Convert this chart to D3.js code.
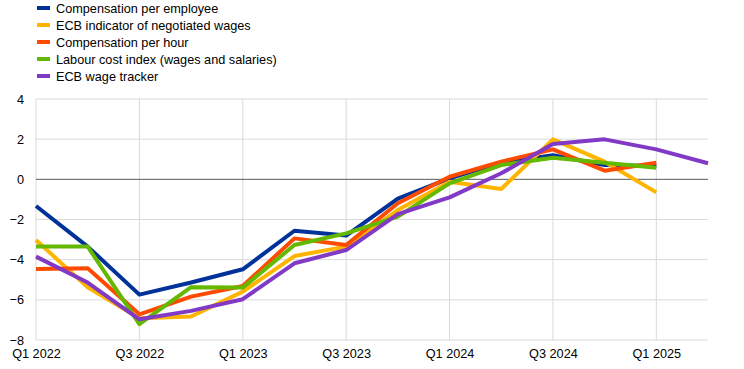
<!DOCTYPE html>
<html>
<head>
<meta charset="utf-8">
<script src="https://cdn.jsdelivr.net/npm/d3@7"></script>
<style>
  body { margin: 0; background: #fff; }
  svg text { font-family: Arial, "Liberation Sans", sans-serif; fill: #000; }
</style>
</head>
<body>
<svg id="chart" width="744" height="369"></svg>
<script>
// quarters Q1 2022 .. Q2 2025
var quarters = ["Q1 2022","Q2 2022","Q3 2022","Q4 2022","Q1 2023","Q2 2023","Q3 2023",
                "Q4 2023","Q1 2024","Q2 2024","Q3 2024","Q4 2024","Q1 2025","Q2 2025"];
var tickLabels = ["Q1 2022","Q3 2022","Q1 2023","Q3 2023","Q1 2024","Q3 2024","Q1 2025"];
var yTicks = [-8, -6, -4, -2, 0, 2, 4];

var seriesNames = ["Compensation per employee", "ECB indicator of negotiated wages",
                   "Compensation per hour", "Labour cost index (wages and salaries)", "ECB wage tracker"];
var seriesColors = ["#003299", "#ffb400", "#ff4b00", "#65b800", "#8139c6"];

var compEmployee = [-1.33, -3.35, -5.74, -5.14, -4.48, -2.56, -2.8, -0.96, 0.05, 0.83, 1.2, 0.71, 0.66];
var negotiated   = [-3.02, -5.38, -6.92, -6.83, -5.59, -3.82, -3.35, -1.53, -0.12, -0.48, 1.99, 0.88, -0.65];
var compHour     = [-4.46, -4.43, -6.72, -5.84, -5.31, -2.94, -3.27, -1.19, 0.13, 0.88, 1.49, 0.43, 0.83];
var labourCost   = [-3.35, -3.35, -7.21, -5.37, -5.39, -3.27, -2.69, -1.86, -0.2, 0.71, 1.07, 0.83, 0.58];
var wageTracker  = [-3.85, -5.14, -6.97, -6.55, -5.97, -4.18, -3.52, -1.73, -0.9, 0.3, 1.76, 1.99, 1.49, 0.8];

var seriesValues = [compEmployee, negotiated, compHour, labourCost, wageTracker];

var FONT_SIZE = "12.7px";

var svg = d3.select("#chart");
var margin = {left: 36, right: 36, top: 99, bottom: 29};
var width = 744 - margin.left - margin.right;
var height = 369 - margin.top - margin.bottom;

var xScale = d3.scalePoint().domain(quarters).range([0, width]);
var yScale = d3.scaleLinear().domain([-8, 4]).range([height, 0]);

var main = svg.append("g")
    .attr("transform", "translate(" + margin.left + "," + margin.top + ")");

// horizontal grid
main.append("g").selectAll("line")
    .data(yTicks.filter(function (d) { return d !== 0; }))
    .enter().append("line")
    .attr("x1", 0).attr("x2", width)
    .attr("y1", function (d) { return yScale(d); })
    .attr("y2", function (d) { return yScale(d); })
    .attr("stroke", "#d9d9d9").attr("stroke-width", 1);

// vertical grid
main.append("g").selectAll("line")
    .data(tickLabels)
    .enter().append("line")
    .attr("x1", function (d) { return xScale(d); })
    .attr("x2", function (d) { return xScale(d); })
    .attr("y1", 0).attr("y2", height)
    .attr("stroke", "#d9d9d9").attr("stroke-width", 1);

// zero line
main.append("line")
    .attr("x1", 0).attr("x2", width)
    .attr("y1", yScale(0)).attr("y2", yScale(0))
    .attr("stroke", "#595959").attr("stroke-width", 1);

// y axis labels
var yAxis = d3.axisLeft(yScale).tickValues(yTicks).tickSize(0).tickPadding(12);
var yG = main.append("g").call(yAxis);
yG.select(".domain").remove();
yG.selectAll("text").style("font-size", FONT_SIZE).attr("font-family", null);

// x axis labels
var xAxis = d3.axisBottom(xScale).tickValues(tickLabels).tickSize(0).tickPadding(9);
var xG = main.append("g").attr("transform", "translate(0," + height + ")").call(xAxis);
xG.select(".domain").remove();
xG.selectAll("text").style("font-size", FONT_SIZE).attr("font-family", null);

// lines
var line = d3.line()
    .x(function (d, i) { return xScale(quarters[i]); })
    .y(function (d) { return yScale(d); });

seriesValues.forEach(function (vals, k) {
    main.append("path")
        .datum(vals)
        .attr("d", line)
        .attr("fill", "none")
        .attr("stroke", seriesColors[k])
        .attr("stroke-width", 4)
        .attr("stroke-linejoin", "round");
});

// legend
var legend = svg.append("g").attr("transform", "translate(37,8)");
var items = legend.selectAll("g").data(seriesNames).enter().append("g")
    .attr("transform", function (d, i) { return "translate(0," + (i * 17) + ")"; });
items.append("rect")
    .attr("x", 0).attr("y", -2).attr("width", 13).attr("height", 4)
    .attr("fill", function (d, i) { return seriesColors[i]; });
items.append("text")
    .attr("x", 19).attr("y", 4.5)
    .style("font-size", FONT_SIZE)
    .text(function (d) { return d; });
</script>
</body>
</html>
